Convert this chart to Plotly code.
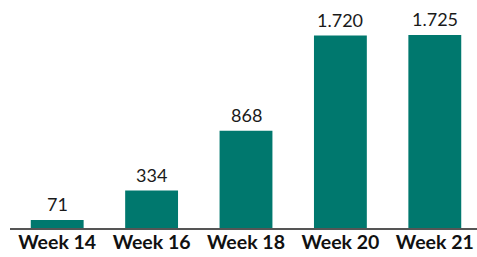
import plotly.graph_objects as go

categories = ["Week 14", "Week 16", "Week 18", "Week 20", "Week 21"]
values = [71, 334, 868, 1720, 1725]
labels = [f"{v:,}".replace(",", ".") for v in values]

fig = go.Figure(go.Bar(x=categories, y=values, marker_color="#00786E",
                       marker_line_width=0, width=0.56, hoverinfo="skip"))

for c, v, t in zip(categories, values, labels):
    fig.add_annotation(x=c, y=v, text=t, showarrow=False, yanchor="bottom",
                       yshift=4, borderpad=0,
                       font=dict(family="Lato", size=18, color="#1a1a1a"))

fig.update_layout(
    width=477, height=257,
    margin=dict(l=10, r=0, t=10, b=29, autoexpand=False),
    plot_bgcolor="white", paper_bgcolor="white",
    showlegend=False,
    xaxis=dict(range=[-0.5, 4.447], showline=True, linecolor="#555", linewidth=2,
               automargin=False, ticks="", ticklabelstandoff=-4,
               tickfont=dict(family="Lato", size=19.5, color="#111", weight="bold")),
    yaxis=dict(range=[0, 1948], visible=False, showgrid=False, automargin=False),
)

fig.write_html("out.html",
               config={"displayModeBar": False, "staticPlot": True},
               post_script="document.body.style.margin='0';document.body.style.overflow='hidden';")
